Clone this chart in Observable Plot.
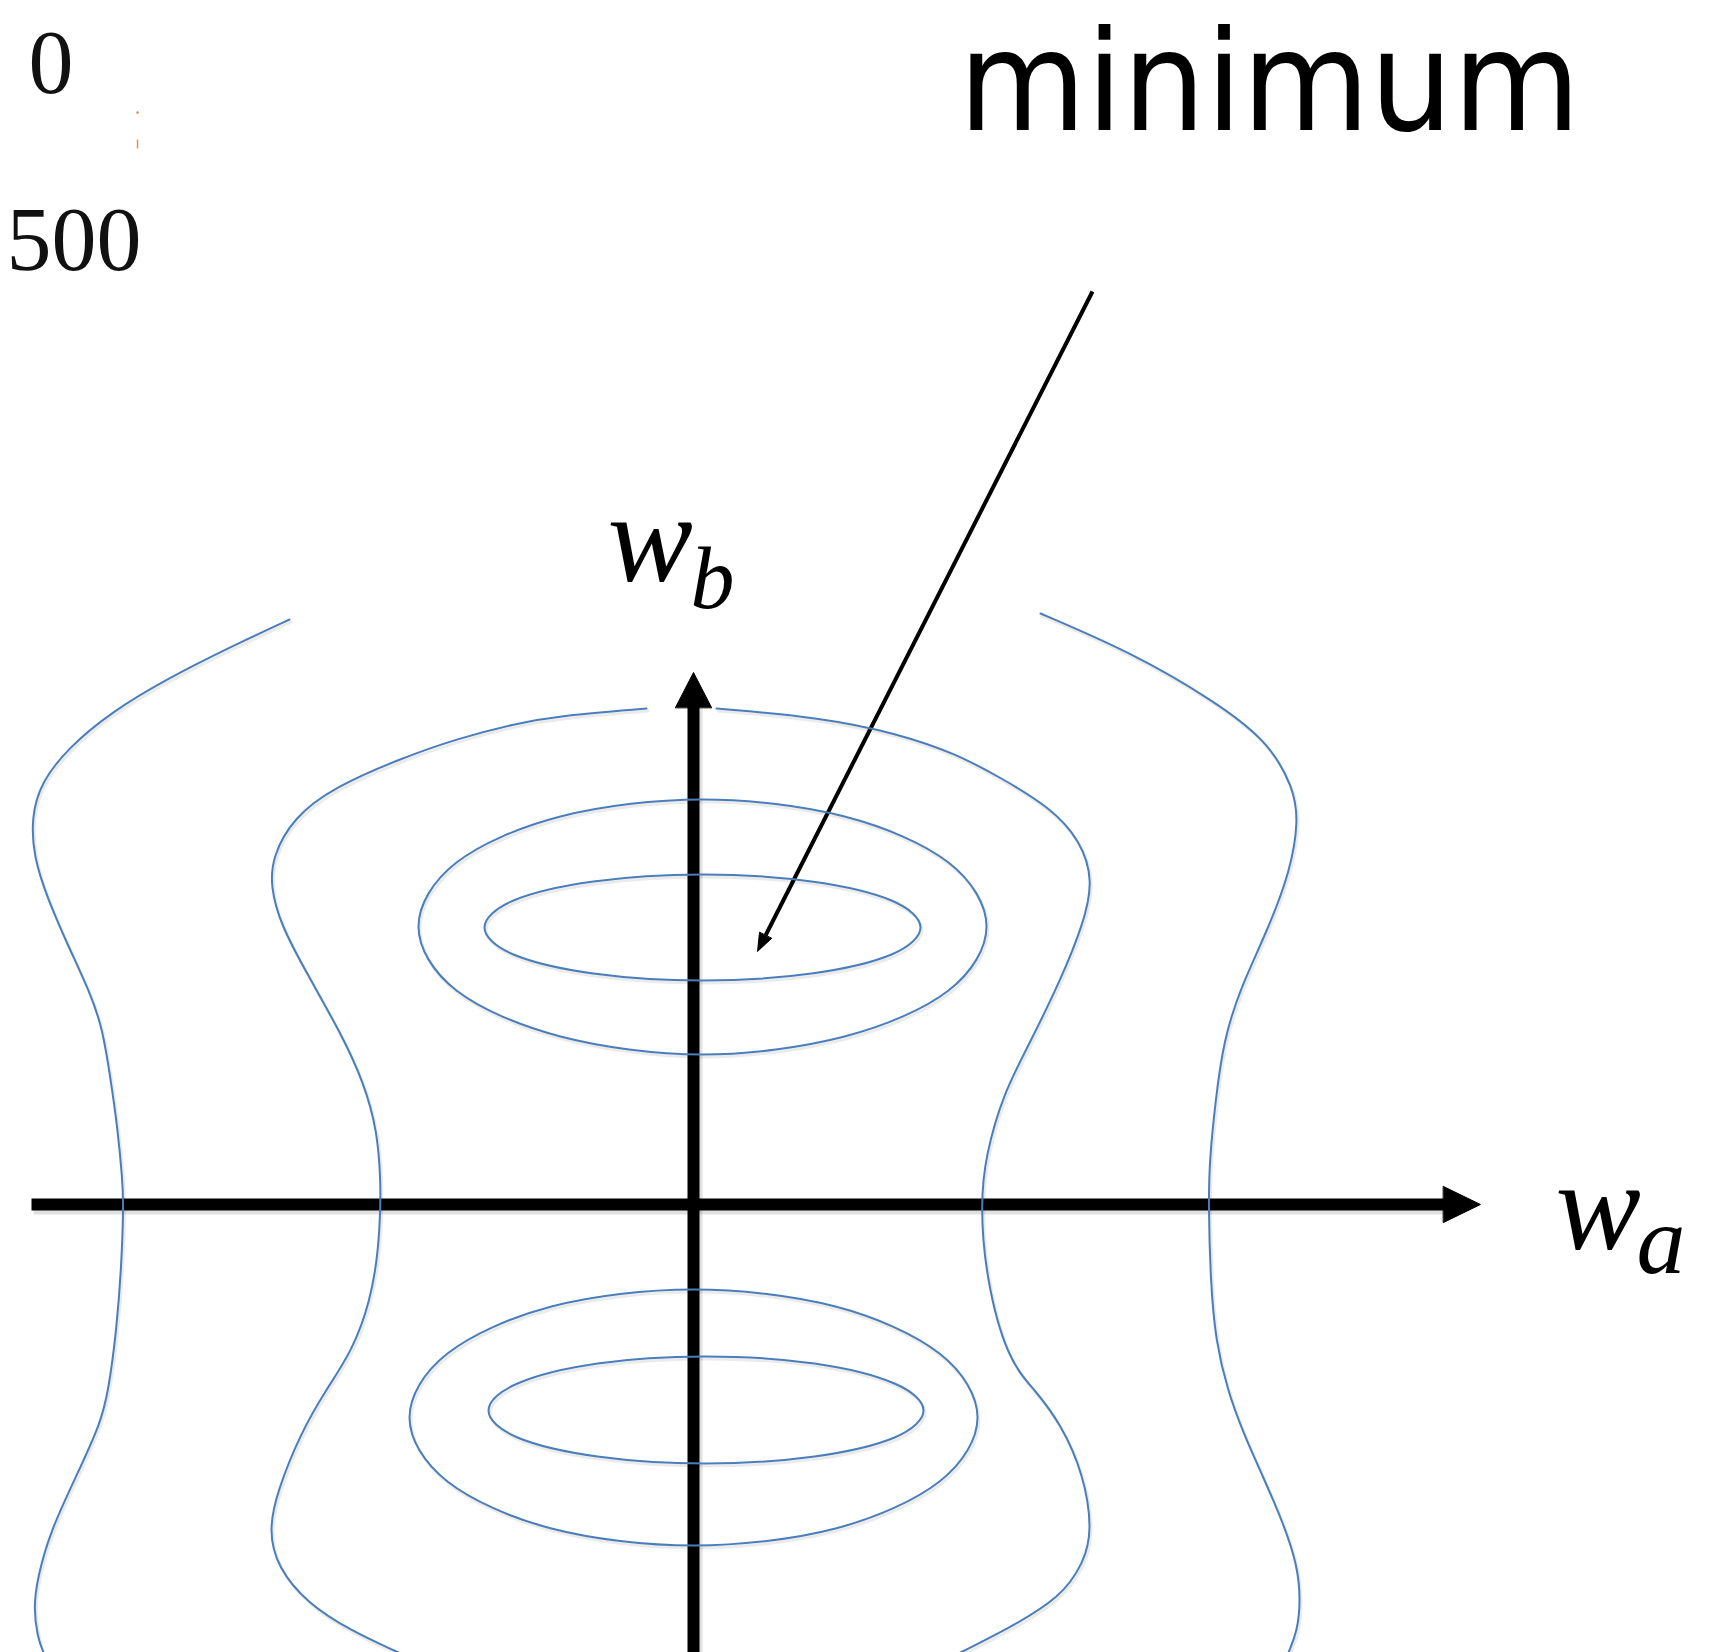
<!DOCTYPE html>
<html>
<head>
<meta charset="utf-8">
<script src="https://cdn.jsdelivr.net/npm/d3@7"></script>
<script src="https://cdn.jsdelivr.net/npm/@observablehq/plot@0.6"></script>
<style>
  html, body { margin: 0; padding: 0; background: #ffffff; }
  #chart svg { display: block; }
</style>
</head>
<body>
<div id="chart"></div>
<script>
// ---- Data (image coordinates: x right, y down) ----
// Open contour curves (outer level sets), traced top to bottom
const outerLeft = [[289,619],[233,645],[167,678],[110,712],[67,748],[40,783],[31,817],[33,856],[47,898],[67,944],[90,993],[102,1028],[110,1078],[117,1127],[122,1180],[123,1204],[121,1265],[116,1330],[108,1390],[100,1423],[77,1473],[50,1530],[37,1577],[33,1607],[37,1637],[43,1652]];
const innerLeft = [[646,708],[560,715],[515,723],[457,738],[400,758],[333,787],[293,817],[272,856],[270,886],[280,924],[307,974],[340,1032],[363,1081],[377,1131],[380,1180],[380,1204],[378,1250],[370,1300],[352,1350],[325,1390],[300,1433],[277,1490],[268,1530],[277,1567],[307,1603],[350,1630],[398,1652]];
const innerRight = [[716,708],[821,717],[897,733],[955,753],[1000,777],[1050,807],[1080,840],[1093,880],[1083,923],[1060,980],[1027,1047],[1003,1093],[985,1155],[980,1204],[985,1276],[1007,1360],[1035,1390],[1060,1423],[1083,1473],[1092,1530],[1083,1563],[1060,1597],[1010,1627],[960,1652]];
const outerRight = [[1040,613],[1133,653],[1213,700],[1267,740],[1293,787],[1298,820],[1290,870],[1267,930],[1240,987],[1223,1040],[1215,1100],[1209,1160],[1208,1204],[1210,1280],[1215,1340],[1227,1390],[1243,1433],[1262,1475],[1283,1523],[1297,1565],[1300,1600],[1297,1630],[1288,1652]];

// Closed contours (ellipse-like rings), points read around each ring
const topInner = [[920,927],[891,900],[811,881],[702,874],[593,881],[513,900],[484,927],[513,954],[593,973],[702,980],[811,973],[891,954]];
const topOuter = [[986,926],[948,862],[844,816],[702,799],[560,816],[456,862],[418,926],[456,990],[560,1036],[702,1054],[844,1036],[948,990]];
const bottomInner = [[923,1410],[894,1383],[814,1363],[705,1356],[597,1363],[517,1383],[488,1410],[517,1437],[597,1456],[705,1463],[814,1456],[894,1437]];
const bottomOuter = [[977,1417],[939,1353],[835,1306],[693,1289],[551,1306],[447,1353],[409,1417],[447,1481],[551,1528],[693,1545],[835,1528],[939,1481]];

// Axes (shafts and arrow heads) and the "minimum" pointer
const axisShafts = [
  {id: "wa", x1: 31, y1: 1204, x2: 1445, y2: 1204},
  {id: "wb", x1: 693, y1: 1652, x2: 693, y2: 705}
];
const pointerShaft = [{x1: 1092, y1: 291, x2: 765, y2: 935}];
const arrowHeads = [
  {id: "wa", pts: [[1443,1186],[1480,1204],[1443,1222]]},
  {id: "wb", pts: [[675,707],[693,672],[711,707]]},
  {id: "min", pts: [[771,938],[757,951],[759,932]]}
];

// Texts
const tickLabels = [{text: "0", x: 28, y: 92}, {text: "500", x: 6, y: 269}];
const titleLabel = [{text: "minimum", x: 958, y: 129}];
const axisMain = [{text: "w", x: 607, y: 580}, {text: "w", x: 1555, y: 1248}];
const axisSubB = [{text: "b", x: 690, y: 607}];
const axisSubA = [{text: "a", x: 1636, y: 1272}];
const strayDots = [{x: 137, y: 112}];
const straySeg = [{x1: 137, y1: 139, x2: 137, y2: 148}];

// ---- Build tables ----
const toRows = (name, pts) => pts.map(([x, y]) => ({name, x, y}));
const openRows = [
  ...toRows("outerLeft", outerLeft), ...toRows("innerLeft", innerLeft),
  ...toRows("innerRight", innerRight), ...toRows("outerRight", outerRight)
];
const closedRows = [
  ...toRows("topInner", topInner), ...toRows("topOuter", topOuter),
  ...toRows("bottomInner", bottomInner), ...toRows("bottomOuter", bottomOuter)
];
const headRows = arrowHeads.flatMap(h => toRows(h.id, h.pts));

const W = 1725, H = 1652;
const blue = "#4A7EBB";
const openCurve = {curve: "basis"};
const closedCurve = {curve: "cardinal-closed", tension: 0};

const svg = Plot.plot({
  width: W, height: H, margin: 0,
  style: {background: "#ffffff"},
  x: {domain: [0, W], axis: null},
  y: {domain: [H, 0], axis: null},
  marks: [
    // faint drop shadows
    Plot.link(axisShafts, {x1: "x1", y1: "y1", x2: "x2", y2: "y2", stroke: "#000", strokeOpacity: 0.12, strokeWidth: 14, dx: 2, dy: 3}),
    // axes
    Plot.link(axisShafts, {x1: "x1", y1: "y1", x2: "x2", y2: "y2", stroke: "black", strokeWidth: 12, strokeLinecap: "butt"}),
    Plot.link(pointerShaft, {x1: "x1", y1: "y1", x2: "x2", y2: "y2", stroke: "black", strokeWidth: 4, strokeLinecap: "butt"}),
    Plot.line(headRows, {x: "x", y: "y", z: "name", fill: "black", stroke: "black", strokeWidth: 1, curve: "linear-closed"}),
    // contour shadows
    Plot.line(openRows, {x: "x", y: "y", z: "name", stroke: "#000", strokeOpacity: 0.08, strokeWidth: 3, dx: 1.5, dy: 2.5, ...openCurve}),
    Plot.line(closedRows, {x: "x", y: "y", z: "name", stroke: "#000", strokeOpacity: 0.08, strokeWidth: 3, dx: 1.5, dy: 2.5, ...closedCurve}),
    // contours
    Plot.line(openRows, {x: "x", y: "y", z: "name", stroke: blue, strokeWidth: 2, ...openCurve}),
    Plot.line(closedRows, {x: "x", y: "y", z: "name", stroke: blue, strokeWidth: 2, ...closedCurve}),
    // stray remnants near the corner
    Plot.dot(strayDots, {x: "x", y: "y", r: 1.2, fill: "#c98a4b", stroke: "none"}),
    Plot.link(straySeg, {x1: "x1", y1: "y1", x2: "x2", y2: "y2", stroke: "#d19a5e", strokeWidth: 1.5}),
    // texts
    Plot.text(tickLabels, {x: "x", y: "y", text: "text", textAnchor: "start", lineAnchor: "bottom", fontFamily: "Liberation Serif", fontSize: 90, fill: "#111"}),
    Plot.text(titleLabel, {x: "x", y: "y", text: "text", textAnchor: "start", lineAnchor: "bottom", fontFamily: "DejaVu Sans", fontSize: 139, fill: "black"}),
    Plot.text(axisMain, {x: "x", y: "y", text: "text", textAnchor: "start", lineAnchor: "bottom", fontFamily: "Liberation Serif", fontStyle: "italic", fontSize: 128, fill: "black"}),
    Plot.text(axisSubB, {x: "x", y: "y", text: "text", textAnchor: "start", lineAnchor: "bottom", fontFamily: "Liberation Serif", fontStyle: "italic", fontSize: 88, fill: "black"}),
    Plot.text(axisSubA, {x: "x", y: "y", text: "text", textAnchor: "start", lineAnchor: "bottom", fontFamily: "Liberation Serif", fontStyle: "italic", fontSize: 98, fill: "black"})
  ]
});

d3.select(svg).selectAll("text")
  .filter(function () { return this.textContent === "minimum"; })
  .attr("textLength", 622)
  .attr("lengthAdjust", "spacingAndGlyphs");

document.getElementById("chart").appendChild(svg);
</script>
</body>
</html>
